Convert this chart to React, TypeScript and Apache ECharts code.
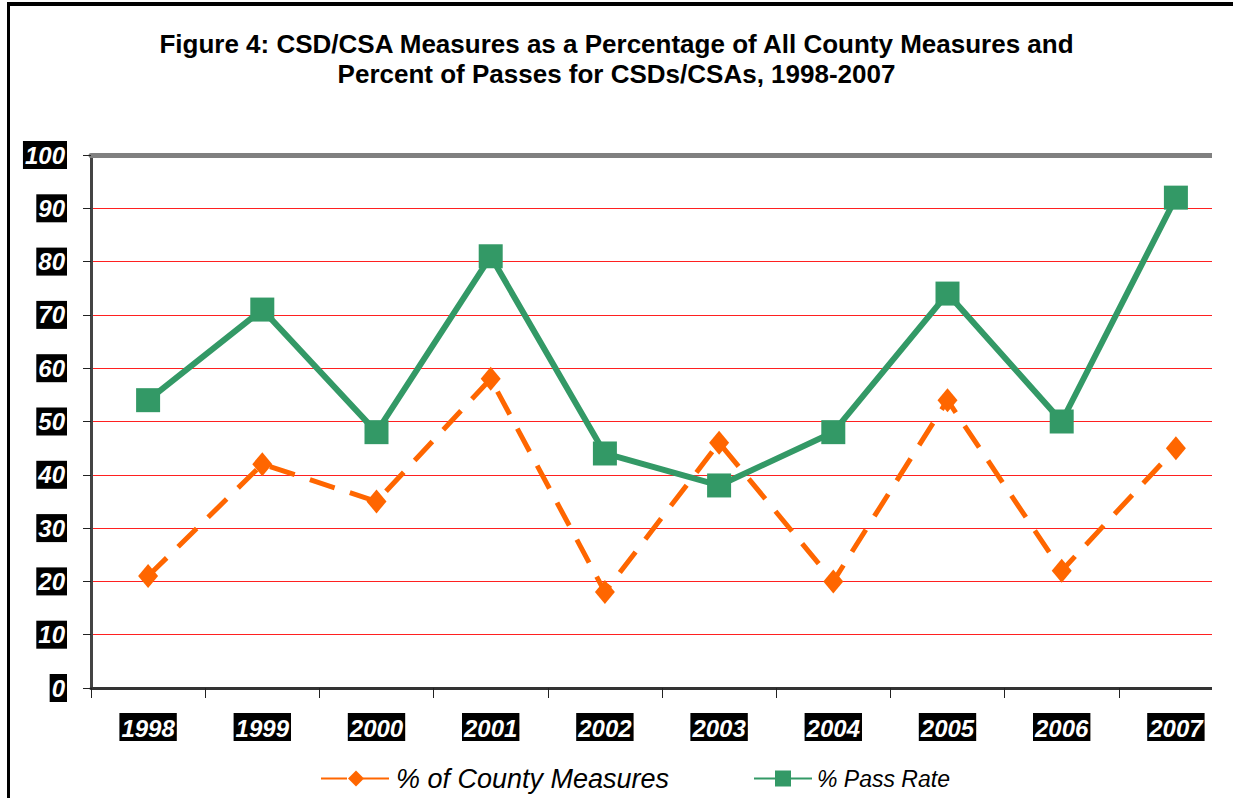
import React, { useEffect, useRef } from "react";
import * as echarts from "echarts";

const years = ["1998", "1999", "2000", "2001", "2002", "2003", "2004", "2005", "2006", "2007"];
const countyMeasures = [21, 42, 35, 58, 18, 46, 20, 54, 22, 45];
const passRate = [54, 71, 48, 81, 44, 38, 48, 74, 50, 92];
const yTicks = { min: 0, max: 100, interval: 10 };

const FONT = "'Liberation Sans', Arial, sans-serif";

export default function App() {
  const ref = useRef<HTMLDivElement>(null);
  useEffect(() => {
    if (!ref.current) return;
    const chart = echarts.init(ref.current, null, { renderer: "svg" });
    const labelBox = {
      color: "#fff",
      backgroundColor: "#000",
      fontStyle: "italic" as const,
      fontWeight: "bold" as const,
      fontSize: 24,
      fontFamily: FONT,
      padding: [3, 2, 1, 2],
    };
    chart.setOption({
      animation: false,
      backgroundColor: "#fff",
      title: {
        text: "Figure 4: CSD/CSA Measures as a Percentage of All County Measures and\nPercent of Passes for CSDs/CSAs, 1998-2007",
        left: "center",
        top: 24,
        textStyle: { fontFamily: FONT, fontWeight: "bold", fontSize: 26, lineHeight: 30, color: "#000" },
      },
      legend: [
        {
          left: 315,
          top: 760,
          itemWidth: 70,
          itemHeight: 20,
          itemGap: 8,
          textStyle: { fontFamily: FONT, fontStyle: "italic", fontSize: 27, color: "#000" },
          data: ["% of County Measures"],
        },
        {
          left: 748,
          top: 762,
          itemWidth: 58,
          itemHeight: 20,
          textStyle: { fontFamily: FONT, fontStyle: "italic", fontSize: 23, color: "#000" },
          data: ["% Pass Rate"],
        },
      ],
      grid: { left: 91, right: 0, top: 155, bottom: 110, containLabel: false },
      xAxis: [
        {
          type: "category",
          data: years,
          boundaryGap: true,
          axisLine: { lineStyle: { color: "#333", width: 3 } },
          axisTick: { show: true, length: 10, lineStyle: { color: "#222", width: 1 } },
          axisLabel: { ...labelBox, margin: 25 },
          splitLine: { show: false },
        },
        {
          type: "category",
          data: years,
          position: "top",
          axisLine: { lineStyle: { color: "#808080", width: 5 } },
          axisTick: { show: false },
          axisLabel: { show: false },
        },
      ],
      yAxis: {
        type: "value",
        min: yTicks.min,
        max: yTicks.max,
        interval: yTicks.interval,
        axisLine: { show: true, lineStyle: { color: "#444", width: 3 } },
        axisTick: { show: true, length: 8, lineStyle: { color: "#222", width: 1 } },
        axisLabel: { ...labelBox, margin: 24 },
        splitLine: { show: true, lineStyle: { color: "#ff2020", width: 1 } },
      },
      graphic: [
        { type: "rect", shape: { x: 1212, y: 148, width: 30, height: 550 }, style: { fill: "#fff" }, z: 100 },
        { type: "rect", shape: { x: 7, y: 2, width: 1240, height: 4 }, style: { fill: "#000" }, z: 101 },
        { type: "rect", shape: { x: 7, y: 2, width: 3, height: 800 }, style: { fill: "#000" }, z: 101 },
      ],
      series: [
        {
          name: "% of County Measures",
          type: "line",
          data: countyMeasures,
          symbol: "diamond",
          symbolSize: [20, 24],
          itemStyle: { color: "#ff6600" },
          lineStyle: { color: "#ff6600", width: 5, type: [26, 16] },
          z: 3,
        },
        {
          name: "% Pass Rate",
          type: "line",
          data: passRate,
          symbol: "rect",
          symbolSize: 24,
          itemStyle: { color: "#339966" },
          lineStyle: { color: "#339966", width: 6 },
          z: 4,
        },
      ],
    });
    return () => chart.dispose();
  }, []);
  return (
    <div
      ref={ref}
      style={{ position: "absolute", left: 0, top: 0, width: 1233, height: 798 }}
    />
  );
}
